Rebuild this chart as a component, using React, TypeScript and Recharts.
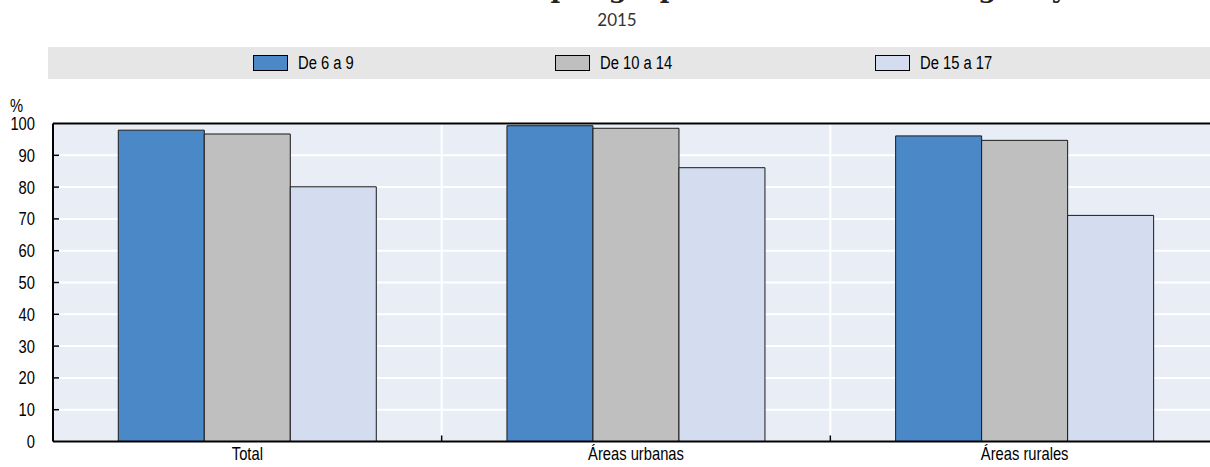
import { BarChart, Bar, XAxis, YAxis, CartesianGrid, ReferenceLine } from "recharts";

const categories = ["Total", "Áreas urbanas", "Áreas rurales"];
const seriesNames = ["De 6 a 9", "De 10 a 14", "De 15 a 17"];
const de6a9 = [97.9, 99.3, 96.1];
const de10a14 = [96.7, 98.5, 94.7];
const de15a17 = [80.1, 86.1, 71.1];
const yTicks = [0, 10, 20, 30, 40, 50, 60, 70, 80, 90, 100];
const colors = ["#4a88c7", "#bfbfbf", "#d3ddef"];

const title = "Tasa neta de asistencia escolar por grupo de edad en cada región y zona";
const subtitle = "2015";

const data = categories.map((name, i) => ({
  name,
  s0: de6a9[i],
  s1: de10a14[i],
  s2: de15a17[i],
}));

// Arial Narrow look-alike: Liberation Sans squeezed horizontally
const FONT = "'Liberation Sans', Arial, sans-serif";
const SQ = 0.82;

// vertical separators between categories, taken from the band scale
function bandEdges(props: any) {
  const { xAxis, offset } = props;
  const s = xAxis && xAxis.scale;
  return categories.slice(1).map((c, i) => {
    const v = typeof s === "function" ? s(c) : undefined;
    if (typeof v === "number" && !isNaN(v)) return v;
    return offset.left + (offset.width * (i + 1)) / categories.length;
  });
}

function YTick(props: any) {
  const { x, y, payload } = props;
  return (
    <g>
      {payload.value > 0 && payload.value < 100 && (
        <line x1={x + 18} x2={x + 24} y1={y} y2={y} stroke="#000" strokeWidth={1.5} />
      )}
      <text
        transform={`translate(${x},${y}) scale(${SQ},1)`}
        dy="0.36em"
        textAnchor="end"
        fill="#000"
        fontSize={18}
        fontFamily={FONT}
      >
        {payload.value}
      </text>
    </g>
  );
}

function XTick(props: any) {
  const { x, y, payload, index } = props;
  const half = payload && typeof payload.offset === "number" ? payload.offset : null;
  return (
    <g>
      {index > 0 && half !== null && (
        <line x1={x - half} x2={x - half} y1={y - 6} y2={y - 12} stroke="#000" strokeWidth={1.5} />
      )}
      <text
        transform={`translate(${x},${y}) scale(${SQ},1)`}
        dy="0.71em"
        textAnchor="middle"
        fill="#000"
        fontSize={18}
        fontFamily={FONT}
      >
        {payload.value}
      </text>
    </g>
  );
}

const legendWidths = [302, 320, 200];

const squeezed = {
  display: "inline-block",
  transform: `scaleX(${SQ})`,
  transformOrigin: "left center",
  whiteSpace: "nowrap" as const,
};

export default function App() {
  return (
    <div style={{ position: "absolute", left: 0, top: 0, width: 1210, height: 467, overflow: "hidden", background: "#fff" }}>
      <BarChart
        width={1219}
        height={467}
        data={data}
        margin={{ top: 123.5, right: 0, left: 0, bottom: 0 }}
        barCategoryGap="16.8%"
        barGap={0}
      >
        <CartesianGrid
          stroke="#fff"
          strokeWidth={2}
          fill="#e9edf6"
          fillOpacity={1}
          verticalCoordinatesGenerator={bandEdges}
        />
        <XAxis
          dataKey="name"
          height={25.5}
          axisLine={{ stroke: "#000", strokeWidth: 2 }}
          tickLine={false}
          tickSize={0}
          tickMargin={6}
          tick={<XTick />}
        />
        <YAxis
          width={53}
          domain={[0, 100]}
          ticks={yTicks}
          interval={0}
          axisLine={{ stroke: "#000", strokeWidth: 2 }}
          tickLine={false}
          tickSize={0}
          tickMargin={18}
          tick={<YTick />}
        />
        <ReferenceLine y={100} stroke="#000" strokeWidth={2} />
        {["s0", "s1", "s2"].map((k, i) => (
          <Bar key={k} dataKey={k} fill={colors[i]} stroke="#1a1a1a" strokeWidth={1} isAnimationActive={false} />
        ))}
      </BarChart>

      <div
        style={{
          position: "absolute",
          left: 0,
          width: 1234,
          top: -26,
          textAlign: "center",
          fontFamily: "'DejaVu Serif', serif",
          fontWeight: "bold",
          fontSize: 26,
          color: "#222",
          whiteSpace: "nowrap",
          lineHeight: "30px",
        }}
      >
        {title}
      </div>
      <div
        style={{
          position: "absolute",
          left: 0,
          width: 1234,
          top: 10,
          textAlign: "center",
          fontFamily: "Lato, sans-serif",
          fontSize: 17,
          color: "#333",
          lineHeight: "20px",
        }}
      >
        {subtitle}
      </div>

      <div
        style={{
          position: "absolute",
          left: 48,
          top: 47,
          width: 1162,
          height: 32,
          background: "#e6e6e6",
          display: "flex",
          alignItems: "center",
          paddingLeft: 205,
          boxSizing: "border-box",
          fontFamily: FONT,
          fontSize: 18,
          color: "#000",
        }}
      >
        {seriesNames.map((n, i) => (
          <div key={n} style={{ width: legendWidths[i], display: "flex", alignItems: "center" }}>
            <div style={{ width: 33, height: 14, background: colors[i], border: "1px solid #000", marginRight: 10, flex: "none" }} />
            <span style={squeezed}>{n}</span>
          </div>
        ))}
      </div>

      <div style={{ position: "absolute", left: 10, top: 96, fontFamily: FONT, fontSize: 18, color: "#000" }}>
        <span style={squeezed}>%</span>
      </div>
    </div>
  );
}
